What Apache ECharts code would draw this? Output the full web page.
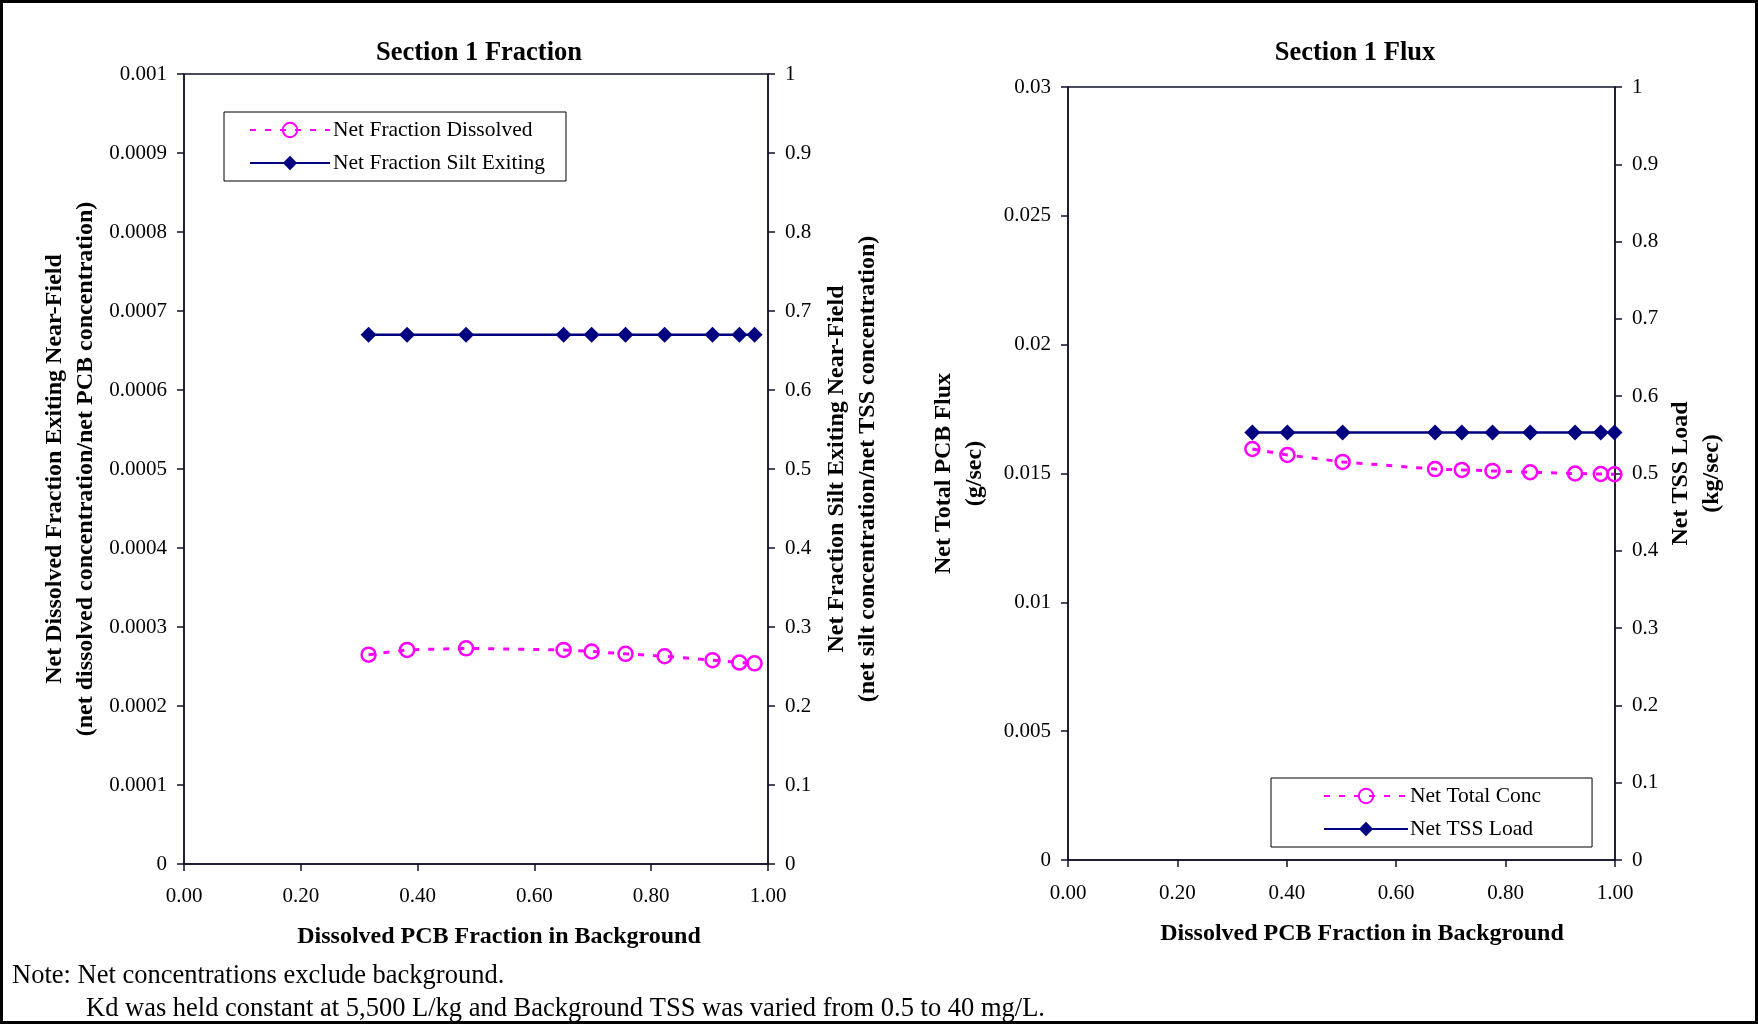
<!DOCTYPE html>
<html>
<head>
<meta charset="utf-8">
<title>Section 1 Fraction and Flux</title>
<script src="https://cdn.jsdelivr.net/npm/echarts@6/dist/echarts.min.js"></script>
<style>
  html, body { margin: 0; padding: 0; background: #fff; }
  #chart { width: 1758px; height: 1024px; }
</style>
</head>
<body>
<div id="chart"></div>
<script>
// Section 1 Fraction (left panel)
const fractionX = [0.316, 0.382, 0.483, 0.650, 0.698, 0.756, 0.823, 0.905, 0.951, 0.977];
const netFractionDissolved = [0.000265, 0.000271, 0.000273, 0.000271, 0.000269, 0.000266, 0.000263, 0.000258, 0.000255, 0.000254];
const netFractionSiltExiting = [0.67, 0.67, 0.67, 0.67, 0.67, 0.67, 0.67, 0.67, 0.67, 0.67];

// Section 1 Flux (right panel)
const fluxX = [0.337, 0.401, 0.502, 0.671, 0.720, 0.776, 0.845, 0.927, 0.974, 0.999];
const netTotalConc = [0.01595, 0.01572, 0.01545, 0.01517, 0.01514, 0.01510, 0.01505, 0.01500, 0.01498, 0.01497];
const netTSSLoad = [0.553, 0.553, 0.553, 0.553, 0.553, 0.553, 0.553, 0.553, 0.553, 0.553];

const FONT = "'Times New Roman', 'Liberation Serif', serif";
const AXIS_COLOR = '#10102a';
const PINK = '#FF00FF';
const NAVY = '#000080';

function pairs(xs, ys) { return xs.map((x, i) => [x, ys[i]]); }
function numLabel(v) { return v === 0 ? '0' : String(parseFloat(v.toPrecision(6))); }

function valueAxis(extra) {
  return Object.assign({
    type: 'value',
    axisLine: { show: true, lineStyle: { color: AXIS_COLOR, width: 1.5 } },
    axisTick: { show: true, inside: false, length: 7, lineStyle: { color: AXIS_COLOR, width: 1.5 } },
    splitLine: { show: false },
    axisLabel: { color: '#000', fontFamily: FONT, fontSize: 21, margin: 17, formatter: numLabel },
    nameLocation: 'middle',
    nameTextStyle: { color: '#000', fontFamily: FONT, fontSize: 24, fontWeight: 'bold', lineHeight: 31 }
  }, extra);
}

const xAxisName = 'Dissolved PCB Fraction in Background';

const option = {
  backgroundColor: '#fff',
  animation: false,
  title: [
    { text: 'Section 1 Fraction', left: 479, top: 40, textAlign: 'center', padding: 0,
      textStyle: { fontFamily: FONT, fontSize: 26.5, fontWeight: 'bold', color: '#000' } },
    { text: 'Section 1 Flux', left: 1355, top: 40, textAlign: 'center', padding: 0,
      textStyle: { fontFamily: FONT, fontSize: 26.5, fontWeight: 'bold', color: '#000' } }
  ],
  grid: [
    { left: 184, top: 74, width: 584, height: 790, show: true, borderColor: AXIS_COLOR, borderWidth: 1.5, backgroundColor: 'transparent' },
    { left: 1068, top: 87, width: 547, height: 773, show: true, borderColor: AXIS_COLOR, borderWidth: 1.5, backgroundColor: 'transparent' }
  ],
  xAxis: [
    valueAxis({
      gridIndex: 0, min: 0, max: 1, interval: 0.2,
      axisLabel: { color: '#000', fontFamily: FONT, fontSize: 21, margin: 22, formatter: v => v.toFixed(2) },
      name: xAxisName, nameGap: 61,
      nameTextStyle: { color: '#000', fontFamily: FONT, fontSize: 24, fontWeight: 'bold', padding: [0, 0, 0, 46] }
    }),
    valueAxis({
      gridIndex: 1, min: 0, max: 1, interval: 0.2,
      axisLabel: { color: '#000', fontFamily: FONT, fontSize: 21, margin: 23, formatter: v => v.toFixed(2) },
      name: xAxisName, nameGap: 62,
      nameTextStyle: { color: '#000', fontFamily: FONT, fontSize: 24, fontWeight: 'bold', padding: [0, 0, 0, 41] }
    })
  ],
  yAxis: [
    valueAxis({
      gridIndex: 0, position: 'left', min: 0, max: 0.001, interval: 0.0001,
      name: 'Net Dissolved Fraction Exiting Near-Field\n(net dissolved concentration/net PCB concentration)',
      nameRotate: 90, nameGap: 83
    }),
    valueAxis({
      gridIndex: 0, position: 'right', min: 0, max: 1, interval: 0.1,
      name: 'Net Fraction Silt Exiting Near-Field\n(net silt concentration/net TSS concentration)',
      nameRotate: 90, nameGap: 53
    }),
    valueAxis({
      gridIndex: 1, position: 'left', min: 0, max: 0.03, interval: 0.005,
      name: 'Net Total PCB Flux\n(g/sec)',
      nameRotate: 90, nameGap: 78
    }),
    valueAxis({
      gridIndex: 1, position: 'right', min: 0, max: 1, interval: 0.1,
      name: 'Net TSS Load\n(kg/sec)',
      nameRotate: 90, nameGap: 50
    })
  ],
  legend: [
    {
      data: ['Net Fraction Dissolved', 'Net Fraction Silt Exiting'],
      orient: 'vertical', left: 224, top: 112,
      padding: [7, 21, 7, 25], itemGap: 11, itemWidth: 80, itemHeight: 18,
      borderColor: '#000', borderWidth: 1, backgroundColor: '#fff',
      textStyle: { fontFamily: FONT, fontSize: 21.5, color: '#000', padding: [0, 0, 0, -2] }
    },
    {
      data: ['Net Total Conc', 'Net TSS Load'],
      orient: 'vertical', left: 1271, top: 778,
      padding: [7, 51, 7, 52], itemGap: 11, itemWidth: 84, itemHeight: 18,
      borderColor: '#000', borderWidth: 1, backgroundColor: '#fff',
      textStyle: { fontFamily: FONT, fontSize: 21.5, color: '#000', padding: [0, 0, 0, -3] }
    }
  ],
  series: [
    {
      name: 'Net Fraction Dissolved', type: 'line', xAxisIndex: 0, yAxisIndex: 0,
      data: pairs(fractionX, netFractionDissolved),
      symbol: 'circle', symbolSize: 14, clip: false,
      lineStyle: { color: PINK, width: 3, type: [6, 9] },
      itemStyle: { color: 'rgba(255,255,255,0)', borderColor: PINK, borderWidth: 2.5 }
    },
    {
      name: 'Net Fraction Silt Exiting', type: 'line', xAxisIndex: 0, yAxisIndex: 1,
      data: pairs(fractionX, netFractionSiltExiting),
      symbol: 'diamond', symbolSize: 16, clip: false,
      lineStyle: { color: NAVY, width: 2.5 },
      itemStyle: { color: NAVY }
    },
    {
      name: 'Net Total Conc', type: 'line', xAxisIndex: 1, yAxisIndex: 2,
      data: pairs(fluxX, netTotalConc),
      symbol: 'circle', symbolSize: 14, clip: false,
      lineStyle: { color: PINK, width: 3, type: [6, 9] },
      itemStyle: { color: 'rgba(255,255,255,0)', borderColor: PINK, borderWidth: 2.5 }
    },
    {
      name: 'Net TSS Load', type: 'line', xAxisIndex: 1, yAxisIndex: 3,
      data: pairs(fluxX, netTSSLoad),
      symbol: 'diamond', symbolSize: 16, clip: false,
      lineStyle: { color: NAVY, width: 2.5 },
      itemStyle: { color: NAVY }
    }
  ],
  graphic: [
    // outer frame
    { type: 'rect', shape: { x: 1.5, y: 1.5, width: 1755, height: 1021 },
      style: { fill: 'none', stroke: '#000', lineWidth: 3 }, silent: true },
    { type: 'text', left: 12, top: 963,
      style: { text: 'Note: Net concentrations exclude background.', font: '26.5px ' + FONT, fill: '#000' } },
    { type: 'text', left: 86, top: 996,
      style: { text: 'Kd was held constant at 5,500 L/kg and Background TSS was varied from 0.5 to 40 mg/L.', font: '26.5px ' + FONT, fill: '#000' } }
  ]
};

const chart = echarts.init(document.getElementById('chart'), null, { renderer: 'canvas' });
chart.setOption(option);
</script>
</body>
</html>
